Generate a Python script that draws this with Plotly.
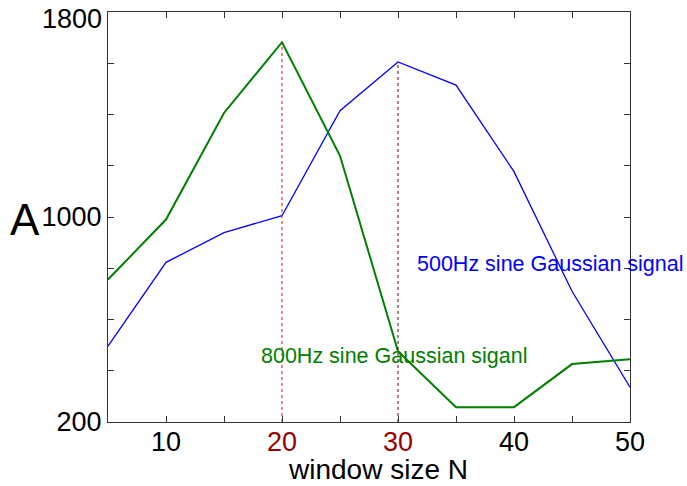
import plotly.graph_objects as go

window_n = [5, 10, 15, 20, 25, 30, 35, 40, 45, 50]
a_500hz = [496, 823, 939, 1005, 1415, 1605, 1515, 1177, 710, 336]
a_800hz = [756, 990, 1406, 1682, 1239, 476, 258, 258, 426, 445]

x_tickvals = [5, 10, 15, 20, 25, 30, 35, 40, 45, 50]
x_ticktext = ["", "10", "", "<span style='color:#990000'>20</span>", "",
              "<span style='color:#990000'>30</span>", "", "40", "", "50"]
y_tickvals = [200, 400, 600, 800, 1000, 1200, 1400, 1600, 1800]
y_ticktext = ["200", "", "", "", "1000", "", "", "", ""]
y_top_label = "1800"

peak_800_x = window_n[a_800hz.index(max(a_800hz))]
peak_500_x = window_n[a_500hz.index(max(a_500hz))]

font = "Liberation Sans, Arial, sans-serif"

fig = go.Figure()
fig.add_trace(go.Scatter(x=window_n, y=a_500hz, mode="lines",
                         line=dict(color="#0000ff", width=1.3), showlegend=False))
fig.add_trace(go.Scatter(x=window_n, y=a_800hz, mode="lines",
                         line=dict(color="#008000", width=2), showlegend=False))
fig.add_trace(go.Scatter(x=[peak_800_x, peak_800_x], y=[200, max(a_800hz)], mode="lines",
                         line=dict(color="#aa2222", width=1, dash="3px,3px"), showlegend=False))
fig.add_trace(go.Scatter(x=[peak_500_x, peak_500_x], y=[200, max(a_500hz)], mode="lines",
                         line=dict(color="#600000", width=1, dash="3px,3px"), showlegend=False))

axis_common = dict(showline=True, linecolor="#333333", linewidth=1, mirror="ticks",
                   ticks="inside", ticklen=6, tickcolor="#333333", showgrid=False,
                   zeroline=False, automargin=False, ticklabeloverflow="allow",
                   tickfont=dict(family=font, size=27, color="black"))

fig.update_xaxes(range=[5, 50], tickmode="array", tickvals=x_tickvals,
                 ticktext=x_ticktext, ticklabelstandoff=-4, **axis_common)
fig.update_yaxes(range=[200, 1800], tickmode="array", tickvals=y_tickvals,
                 ticktext=y_ticktext, **axis_common)

# top y label sits slightly below its tick, as in the reference
fig.add_annotation(x=0, xref="paper", y=1800, text=y_top_label, showarrow=False,
                   xanchor="right", yanchor="middle", xshift=-4, yshift=-7,
                   font=dict(family=font, size=27, color="black"))
fig.add_annotation(x=31.5, y=815, text="500Hz sine Gaussian signal", showarrow=False,
                   xanchor="left", yanchor="middle",
                   font=dict(family=font, size=21.5, color="#0000ff"))
fig.add_annotation(x=18.0, y=457, text="800Hz sine Gaussian siganl", showarrow=False,
                   xanchor="left", yanchor="middle",
                   font=dict(family=font, size=21.5, color="#008000"))
fig.add_annotation(x=0.5, xref="paper", y=0, yref="paper", text="window size N",
                   showarrow=False, xanchor="center", yanchor="middle",
                   xshift=9, yshift=-47, borderpad=0,
                   font=dict(family=font, size=28, color="black"))
fig.add_annotation(x=0, xref="paper", y=1000, text="A", showarrow=False,
                   xanchor="right", yanchor="middle", xshift=-66, yshift=-2,
                   font=dict(family=font, size=44, color="black"))

fig.update_layout(width=687, height=486, margin=dict(l=108, r=57, t=12, b=64),
                  plot_bgcolor="white", paper_bgcolor="white")

fig.write_html("out.html", config={"displayModeBar": False},
               post_script="document.body.style.margin='0';")
